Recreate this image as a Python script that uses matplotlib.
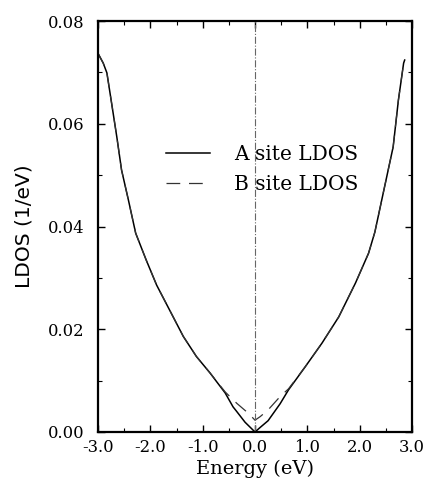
import matplotlib.pyplot as plt
from matplotlib.ticker import MultipleLocator, FormatStrFormatter

# Energy grid (eV) and LDOS
energy = [-3.0, -2.9, -2.83, -2.74, -2.64, -2.55, -2.42, -2.28, -2.08, -1.88,
          -1.63, -1.37, -1.12, -0.86, -0.57, -0.42, -0.35, -0.19, -0.13, 0.0,
          0.1, 0.25, 0.48, 0.64, 0.96, 1.28, 1.6, 1.92, 2.17, 2.29,
          2.45, 2.64, 2.74, 2.84, 2.86]
ldos_a = [0.0737, 0.0718, 0.0699, 0.064, 0.0574, 0.051, 0.0452, 0.0387, 0.0335, 0.0286,
          0.0237, 0.0186, 0.0147, 0.0115, 0.0076, 0.0049, 0.0040, 0.0019, 0.0013, 0.0,
          0.0009, 0.0022, 0.0055, 0.0082, 0.0127, 0.0173, 0.0224, 0.029, 0.0348, 0.0389,
          0.0465, 0.0555, 0.0646, 0.0718, 0.0724]
ldos_b = [0.0737, 0.0718, 0.0699, 0.064, 0.0574, 0.051, 0.0452, 0.0387, 0.0335, 0.0286,
          0.0237, 0.0186, 0.0147, 0.0115, 0.0078, 0.0063, 0.0056, 0.0042, 0.0037, 0.0023,
          0.0030, 0.0043, 0.0069, 0.0084, 0.0127, 0.0173, 0.0224, 0.029, 0.0348, 0.0389,
          0.0465, 0.0555, 0.0646, 0.0718, 0.0724]

plt.rcParams['font.family'] = ['DejaVu Serif']

fig = plt.figure(figsize=(4.24, 4.88), dpi=100)
ax = fig.add_axes([98 / 424, 1 - 432 / 488, 314 / 424, 411 / 488])

ax.plot(energy, ldos_a, color='black', lw=1.1, label='A site LDOS')
ax.plot(energy, ldos_b, color='#333333', lw=0.9, dashes=(11, 7), label='B site LDOS')
ax.axvline(0.0, color='#666666', lw=0.8, ls='-.')

ax.set_xlim(-3.0, 3.0)
ax.set_ylim(0.0, 0.08)
ax.xaxis.set_major_locator(MultipleLocator(1.0))
ax.xaxis.set_minor_locator(MultipleLocator(0.5))
ax.yaxis.set_major_locator(MultipleLocator(0.02))
ax.yaxis.set_minor_locator(MultipleLocator(0.01))
ax.xaxis.set_major_formatter(FormatStrFormatter('%.1f'))
ax.yaxis.set_major_formatter(FormatStrFormatter('%.2f'))
ax.tick_params(which='both', direction='in', top=True, right=True, labelsize=11.8)
ax.tick_params(axis='y', pad=10)
ax.tick_params(axis='x', pad=5)
ax.tick_params(which='major', length=5, width=1.0)
ax.tick_params(which='minor', length=3, width=0.8)
for s in ax.spines.values():
    s.set_linewidth(1.6)

ax.set_xlabel('Energy (eV)', fontsize=14, labelpad=3)
ax.set_ylabel('LDOS (1/eV)', fontsize=14.5, family=['DejaVu Sans'], labelpad=10)

ax.legend(loc='upper left', bbox_to_anchor=(0.19, 0.717), frameon=False, fontsize=14.5,
          handlelength=2.2, handletextpad=1.2, labelspacing=0.55, borderaxespad=0)

fig.savefig('out.png', dpi=100)
